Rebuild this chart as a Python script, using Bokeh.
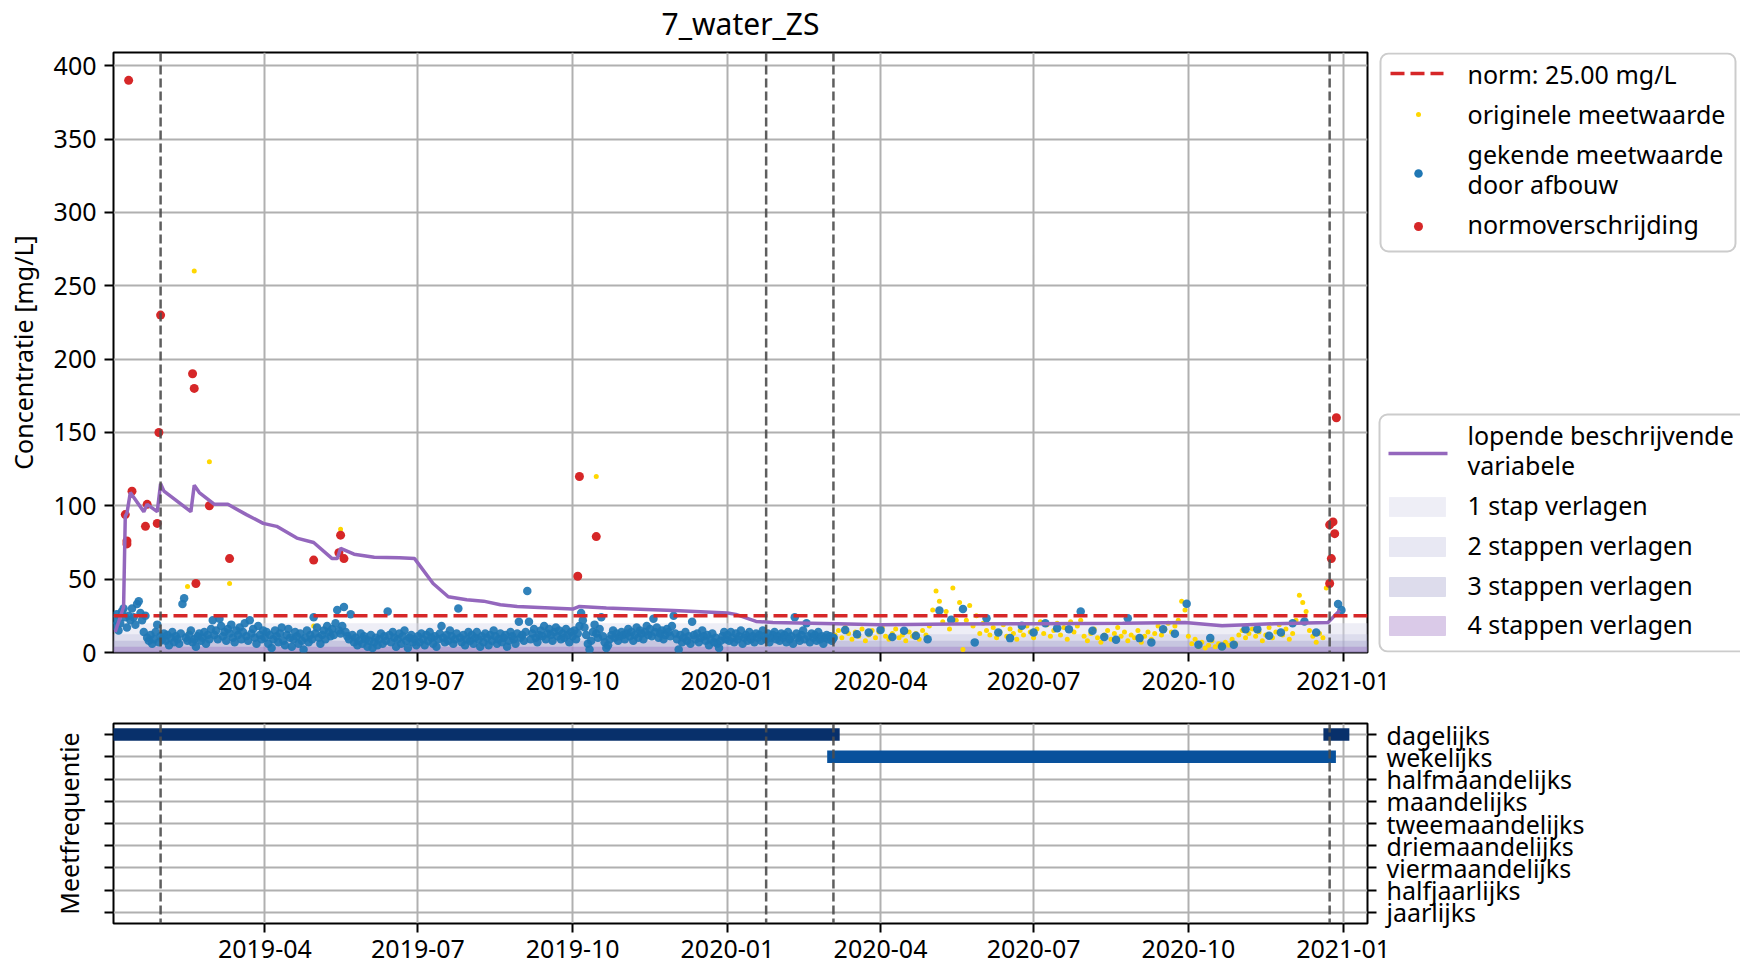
import pandas as pd
from bokeh.plotting import figure
from bokeh.layouts import column, row
from bokeh.models import (Range1d, FixedTicker, DatetimeTickFormatter, Span, FactorRange,
                          CategoricalAxis, DatetimeAxis, ColumnDataSource)
from bokeh.core.properties import value
from bokeh.embed import file_html
from bokeh.resources import INLINE

FONT = "Noto Sans"
FS = "25px"

# ---------------------------------------------------------------- data
title_text = "7_water_ZS"
ylabel_top = "Concentratie [mg/L]"
ylabel_bottom = "Meetfrequentie"
norm_value = 25.0
norm_label = "norm: 25.00 mg/L"

x_start = "2019-01-01"
x_end = "2021-01-15 12:00"
y_max = 409
tick_dates = ["2019-04-01", "2019-07-01", "2019-10-01", "2020-01-01",
              "2020-04-01", "2020-07-01", "2020-10-01", "2021-01-01"]
y_ticks = [0, 50, 100, 150, 200, 250, 300, 350, 400]

phase_dates = ["2019-01-29", "2020-01-24", "2020-03-04", "2020-12-24"]

# blue: gekende meetwaarde door afbouw (daily from 2019-01-01)
blue_daily_start = "2019-01-01"
blue_daily_vals = (
    [18, 22, 26, 15, 20, 28, 30, 24, 17, 25, 22, 30, 24, 19, 33, 35, 27, 22, 14, 25, 10, 8, 12, 6, 9, 14, 19, 7, 11, 9, 13]
    + [8, 12, 5, 10, 14, 7, 11, 9, 6, 13, 33, 37, 10, 8, 12, 15, 7, 9, 4, 11, 13, 8, 10, 14, 6, 12, 9, 16]
    + [22, 12, 15, 9, 23, 18, 11, 14, 8, 16, 13, 19, 10, 7, 15, 12, 17, 9, 14, 20, 11, 8, 22, 13, 16, 10, 6, 18, 12, 9, 15]
    + [10, 14, 6, 12, 3, 9, 15, 11, 7, 13, 17, 8, 5, 12, 16, 10, 4, 9, 14, 11, 6, 13, 8, 2, 10, 15, 7, 12, 9, 24]
    + [13, 17, 10, 6, 12, 15, 9, 18, 14, 11, 16, 12, 20, 29, 15, 13, 18, 31, 14, 11, 9, 26, 12, 7, 10, 5, 8, 13, 6, 11, 9]
    + [4, 8, 12, 3, 7, 10, 5, 9, 13, 6, 11, 8, 28, 12, 7, 14, 10, 4, 9, 13, 6, 11, 15, 8, 3, 10, 12, 7, 9, 5]
    + [11, 7, 13, 9, 5, 12, 8, 14, 10, 6, 11, 4, 9, 13, 18, 10, 7, 12, 8, 15, 11, 6, 9, 13, 30, 10, 7, 12, 5, 9, 14]
    + [8, 12, 6, 10, 14, 9, 4, 11, 7, 13, 10, 5, 12, 8, 15, 11, 6, 9, 13, 7, 10, 12, 4, 8, 14, 11, 9, 6, 13, 21, 10]
    + [12, 8, 14, 42, 21, 9, 13, 16, 10, 7, 12, 15, 11, 18, 9, 13, 16, 12, 8, 14, 17, 11, 15, 9, 13, 10, 16, 12, 7, 14]
    + [11, 15, 9, 13, 18, 27, 22, 17, 12, 6, 2, 8, 14, 19, 13, 10, 16, 24, 11, 7, 3, 5, 9, 12, 15, 10, 13, 8, 11, 14, 12]
    + [9, 13, 16, 11, 14, 8, 12, 17, 10, 15, 13, 9, 14, 18, 12, 16, 11, 23, 14, 17, 10, 13, 15, 9, 12, 16, 14, 11, 18, 25]
    + [13, 9, 2, 12, 7, 10, 14, 8, 11, 6, 21, 12, 9, 13, 7, 10, 15, 11, 8, 12, 5, 9, 13, 7, 10, 6, 3, 8, 11, 14, 9]
    + [12, 8, 14, 10, 7, 13, 9, 11, 15, 6, 10, 12, 8, 14, 9, 11, 7, 13, 10, 12, 8, 15, 11, 9, 13, 7, 10, 12, 14, 9, 11]
    + [8, 13, 10, 12, 7, 14, 9, 11, 6, 24, 13, 10, 8, 12, 15, 9, 20, 11, 7, 13, 10, 12, 8, 14, 9, 11, 6, 10, 12]
    + [9, 11, 8, 10]
)
# blue: weekly from 2020-03-04
blue_weekly_start = "2020-03-04"
blue_weekly_vals = [9.8, 15.4, 12.4, 13.6, 15.4, 10.5, 14.8, 11.4, 9.1, 28.7, 22.3, 29.7, 6.9, 23.4,
                    13.6, 9.8, 18.2, 13.6, 20, 16.6, 15.9, 28, 14.8, 10.5, 8.7, 23.4, 9.8, 6.9,
                    15.9, 12.7, 33.2, 5.3, 9.8, 4.1, 5.3, 15.9, 15.9, 11.4, 13.6, 20, 21.2, 13.6]
blue_extra_dates = ["2020-12-29", "2020-12-31"]
blue_extra_vals = [33, 29]

# yellow: originele meetwaarde
yellow_early_dates = ["2019-02-14", "2019-02-15", "2019-02-18", "2019-02-27", "2019-03-11",
                      "2019-04-30", "2019-05-16", "2019-10-15"]
yellow_early_vals = [45, 14, 260, 130, 47, 18, 84, 120]
yellow_2020_start = "2020-03-05"   # every second day
yellow_2020_vals = [12, 15, 10, 17, 13, 9, 14, 11, 16, 8, 12, 15, 10, 14, 17, 11, 9, 13, 16, 10,
                    12, 8, 14, 11, 13, 9, 15, 12, 18, 29, 42, 35, 21, 28, 16, 44, 22, 34, 2, 22,
                    32, 18, 25, 13, 20, 15, 12, 17, 10, 14, 19, 11, 16, 13, 9, 15, 12, 18, 14, 10,
                    16, 21, 13, 19, 11, 15, 20, 12, 17, 9, 21, 14, 18, 22, 11, 8, 13, 16, 10, 7,
                    12, 15, 9, 13, 17, 11, 14, 8, 12, 10, 15, 7, 11, 14, 9, 13, 18, 12, 16, 20,
                    14, 18, 22, 35, 29, 11, 6, 9, 4, 7, 3, 5, 8, 4, 6, 3, 7, 5, 9, 6,
                    12, 15, 10, 13, 16, 11, 14, 8, 12, 17, 10, 14, 19, 12, 16, 9, 13, 22, 39, 34,
                    28, 15, 11, 7, 13, 10, 44]

# red: normoverschrijding
red_dates = ["2019-01-08", "2019-01-09", "2019-01-09", "2019-01-10", "2019-01-12", "2019-01-20",
             "2019-01-21", "2019-01-27", "2019-01-28", "2019-01-29", "2019-02-17", "2019-02-18",
             "2019-02-19", "2019-02-27", "2019-03-11", "2019-04-30", "2019-05-15", "2019-05-16",
             "2019-05-18", "2019-10-04", "2019-10-05", "2019-10-15", "2020-12-24", "2020-12-24",
             "2020-12-25", "2020-12-26", "2020-12-27", "2020-12-28"]
red_vals = [94, 76, 74, 390, 110, 86, 101, 88, 150, 230, 190, 180, 47, 100, 64, 63, 68, 80, 64,
            52, 120, 79, 47, 87, 64, 89, 81, 160]

# lopende beschrijvende variabele
line_dates = ["2019-01-02", "2019-01-07", "2019-01-08", "2019-01-09", "2019-01-11", "2019-01-19",
              "2019-01-21", "2019-01-27", "2019-01-29", "2019-01-31", "2019-02-16", "2019-02-18",
              "2019-02-21", "2019-03-02", "2019-03-10", "2019-03-21", "2019-03-31", "2019-04-08",
              "2019-04-20", "2019-04-30", "2019-05-11", "2019-05-14", "2019-05-16", "2019-05-24",
              "2019-06-05", "2019-06-20", "2019-06-29", "2019-07-10", "2019-07-19", "2019-07-30",
              "2019-08-09", "2019-08-19", "2019-08-29", "2019-10-01", "2019-10-05", "2019-10-21",
              "2019-11-30", "2020-01-01", "2020-01-06", "2020-01-18", "2020-01-28", "2020-03-06",
              "2020-04-01", "2020-05-15", "2020-07-01", "2020-08-23", "2020-09-29", "2020-10-21",
              "2020-11-21", "2020-12-23", "2020-12-30"]
line_vals = [14, 31, 93, 95, 109, 96, 101, 96, 115, 110, 96, 114, 109, 101, 101, 94, 88, 86, 78,
             75, 64, 64, 71, 67, 65, 64.6, 64, 47, 38, 36, 35, 32.5, 31.4, 29.6, 31.4, 30.3, 28.7,
             26.9, 26, 21.2, 20.5, 19.6, 18.9, 19.5, 19.6, 20, 20.5, 18.2, 19.6, 20.5, 28.7]

# afbouw-zones
band_labels = ["1 stap verlagen", "2 stappen verlagen", "3 stappen verlagen", "4 stappen verlagen"]
band_levels = [20, 12.5, 8, 4]
band_colors = ["#dadaeb", "#bcbddc", "#9e9ac8", "#9467bd"]
band_alphas = [0.45, 0.35, 0.35, 0.35]

# meetfrequentie
freq_categories = ["dagelijks", "wekelijks", "halfmaandelijks", "maandelijks", "tweemaandelijks",
                   "driemaandelijks", "viermaandelijks", "halfjaarlijks", "jaarlijks"]
freq_seg_start = ["2019-01-01", "2020-03-04", "2020-12-24"]
freq_seg_end = ["2020-03-04", "2020-12-24", "2021-01-01"]
freq_seg_cat = ["dagelijks", "wekelijks", "dagelijks"]
freq_seg_color = ["#08306b", "#08519c", "#08306b"]

# ---------------------------------------------------------------- helpers
def ms(s):
    return pd.Timestamp(s).value / 1e6

x0, x1 = ms(x_start), ms(x_end)
tick_ms = [ms(d) for d in tick_dates]
fmt = DatetimeTickFormatter(days="%Y-%m", months="%Y-%m", years="%Y-%m")

BLUE = "#1f77b4"
RED = "#d62728"
YELLOW = "#FFD700"
PURPLE = "#9467bd"
GRID = "#b0b0b0"
VDASH = "#4d4d4d"

# layout (pixels)
LEFT, FRAME_W = 113, 1254
TITLE_H, TITLE_Y = 44, 23
TOP_B, TOP_H, TOP_BB, TOP_R = 52, 600, 10, 4
LOW_T, LOW_H, LOW_B, LOW_R = 61, 200, 40, 240
LEG_X0 = LEFT + FRAME_W + TOP_R
LEG_X1 = 1740

def style_axis(ax):
    ax.axis_line_color = None
    ax.major_tick_line_color = "black"
    ax.major_tick_line_width = 2
    ax.major_tick_out = 9
    ax.major_tick_in = 0
    ax.minor_tick_line_color = None
    ax.major_label_text_font = FONT
    ax.major_label_text_font_size = FS
    ax.major_label_text_color = "black"
    ax.axis_label_text_font = FONT
    ax.axis_label_text_font_size = FS
    ax.axis_label_text_font_style = "normal"
    ax.axis_label_text_color = "black"

def hide_labels(ax):
    ax.major_label_text_font_size = "0px"
    ax.major_label_text_color = None
    ax.major_label_standoff = 0

# ---------------------------------------------------------------- title strip
ttl = figure(frame_width=FRAME_W, frame_height=TITLE_H,
             x_range=Range1d(LEFT, LEFT + FRAME_W), y_range=Range1d(TITLE_H, 0),
             x_axis_type=None, y_axis_type=None, min_border_left=LEFT, min_border_right=TOP_R,
             min_border_top=0, min_border_bottom=0, toolbar_location=None,
             output_backend="svg", outline_line_color=None)
ttl.grid.visible = False
ttl.text(x=[LEFT + FRAME_W / 2], y=[TITLE_Y], text=[title_text], text_font=value(FONT),
         text_font_size="30px", text_color="black", text_align="center", text_baseline="middle")

# ---------------------------------------------------------------- top plot
top = figure(x_axis_type="datetime", x_range=Range1d(x0, x1), y_range=Range1d(0, y_max),
             frame_width=FRAME_W, frame_height=TOP_H, min_border_left=LEFT, min_border_right=TOP_R,
             min_border_top=TOP_B - TITLE_H, min_border_bottom=TOP_BB, toolbar_location=None,
             output_backend="svg")
top.outline_line_color = "black"
top.outline_line_width = 2
top.outline_line_alpha = 1

style_axis(top.xaxis[0])
top.xaxis.ticker = FixedTicker(ticks=tick_ms)
top.xaxis.formatter = fmt
hide_labels(top.xaxis[0])

style_axis(top.yaxis[0])
top.yaxis.ticker = FixedTicker(ticks=y_ticks)
top.yaxis.axis_label = ylabel_top
top.yaxis.major_label_standoff = 8
top.yaxis.axis_label_standoff = 11

top.xgrid.ticker = FixedTicker(ticks=tick_ms)
top.ygrid.ticker = FixedTicker(ticks=y_ticks)
for g in (top.xgrid, top.ygrid):
    g.grid_line_color = GRID
    g.grid_line_width = 2

for lvl, col, a in zip(band_levels, band_colors, band_alphas):
    top.quad(left=[x0], right=[x1], bottom=[0], top=[lvl], fill_color=col, fill_alpha=a, line_color=None)

yellow_x = list(pd.to_datetime(yellow_early_dates)) + list(
    pd.date_range(yellow_2020_start, periods=len(yellow_2020_vals), freq="2D"))
yellow_y = yellow_early_vals + yellow_2020_vals
top.scatter(x=yellow_x, y=yellow_y, size=5, fill_color=YELLOW, line_color=None)

blue_x = (list(pd.date_range(blue_daily_start, periods=len(blue_daily_vals), freq="D"))
          + list(pd.date_range(blue_weekly_start, periods=len(blue_weekly_vals), freq="7D"))
          + list(pd.to_datetime(blue_extra_dates)))
blue_y = blue_daily_vals + blue_weekly_vals + blue_extra_vals
top.scatter(x=blue_x, y=blue_y, size=8.5, fill_color=BLUE, fill_alpha=0.92, line_color=None)

top.scatter(x=pd.to_datetime(red_dates), y=red_vals, size=9, fill_color=RED, line_color=None)

top.line(x=pd.to_datetime(line_dates), y=line_vals, line_width=3.5, line_color=PURPLE)

top.add_layout(Span(location=norm_value, dimension="width", line_color=RED, line_width=3.5,
                    line_dash="14 6"))
for d in phase_dates:
    top.add_layout(Span(location=ms(d), dimension="height", line_color=VDASH, line_width=2.5,
                        line_dash="9 4", line_alpha=0.9))

# ---------------------------------------------------------------- legend panel (page-pixel coords)
leg = figure(frame_width=LEG_X1 - LEG_X0, frame_height=TOP_H,
             x_range=Range1d(LEG_X0, LEG_X1), y_range=Range1d(TOP_B + TOP_H, TOP_B),
             x_axis_type=None, y_axis_type=None, min_border_left=0, min_border_right=0,
             min_border_top=TOP_B - TITLE_H, min_border_bottom=TOP_BB, toolbar_location=None,
             output_backend="svg", outline_line_color=None)
leg.grid.visible = False

leg.quad(left=[1380, 1379], right=[1735, 1760], top=[53, 414], bottom=[251, 651],
         fill_color="white", fill_alpha=0.8, line_color="#cccccc", line_width=2, border_radius=8)

leg.line(x=[1390, 1443], y=[73, 73], line_color=RED, line_width=3.5, line_dash="14 6")
leg.scatter(x=[1418], y=[114], size=5, fill_color=YELLOW, line_color=None)
leg.scatter(x=[1418], y=[173], size=8.5, fill_color=BLUE, line_color=None)
leg.scatter(x=[1418], y=[226], size=9, fill_color=RED, line_color=None)
leg.text(x=[1467] * 5, y=[73, 113, 153, 183, 223],
         text=[norm_label, "originele meetwaarde", "gekende meetwaarde", "door afbouw",
               "normoverschrijding"],
         text_font=value(FONT), text_font_size=FS, text_baseline="middle", text_align="left",
         text_color="black")

leg.line(x=[1388, 1447], y=[453, 453], line_color=PURPLE, line_width=3.5)
sw_top = [497, 537, 577, 616]
for yt, col, a in zip(sw_top, band_colors, band_alphas):
    leg.quad(left=[1389], right=[1445], top=[yt], bottom=[yt + 19], fill_color=col, fill_alpha=a,
             line_color=col, line_alpha=a * 0.6)
leg.text(x=[1467] * 6, y=[434, 464] + [yt + 7 for yt in sw_top],
         text=["lopende beschrijvende", "variabele"] + band_labels,
         text_font=value(FONT), text_font_size=FS, text_baseline="middle", text_align="left",
         text_color="black")

# ---------------------------------------------------------------- bottom plot
bot = figure(x_axis_type="datetime", x_range=top.x_range, y_range=FactorRange(factors=freq_categories[::-1]),
             y_axis_location="right", frame_width=FRAME_W, frame_height=LOW_H, min_border_left=LEFT,
             min_border_right=LOW_R, min_border_top=LOW_T, min_border_bottom=LOW_B,
             toolbar_location=None, output_backend="svg")
bot.outline_line_color = "black"
bot.outline_line_width = 2
bot.outline_line_alpha = 1

style_axis(bot.xaxis[0])
bot.xaxis.ticker = FixedTicker(ticks=tick_ms)
bot.xaxis.formatter = fmt
bot.xaxis.major_label_standoff = 7

style_axis(bot.yaxis[0])
bot.yaxis.major_label_standoff = 10

# tick labels belonging to the upper panel's x axis
above = DatetimeAxis(ticker=FixedTicker(ticks=tick_ms), formatter=fmt)
style_axis(above)
above.major_tick_out = 0
above.major_tick_line_color = None
above.major_label_standoff = 34
bot.add_layout(above, "above")

left_ax = CategoricalAxis()
style_axis(left_ax)
hide_labels(left_ax)
left_ax.axis_label = ylabel_bottom
left_ax.axis_label_standoff = 19
bot.add_layout(left_ax, "left")

bot.xgrid.ticker = FixedTicker(ticks=tick_ms)
for g in (bot.xgrid, bot.ygrid):
    g.grid_line_color = GRID
    g.grid_line_width = 2

seg_src = ColumnDataSource(dict(x0=pd.to_datetime(freq_seg_start), x1=pd.to_datetime(freq_seg_end),
                                y=freq_seg_cat, c=freq_seg_color))
bot.segment(x0="x0", y0="y", x1="x1", y1="y", source=seg_src, line_color="c", line_width=12.5,
            line_cap="square")
for d in phase_dates:
    bot.add_layout(Span(location=ms(d), dimension="height", line_color=VDASH, line_width=2.5,
                        line_dash="9 4", line_alpha=0.9))

layout = column(ttl, row(top, leg), bot)
open("out.html", "w").write(file_html(layout, INLINE))
